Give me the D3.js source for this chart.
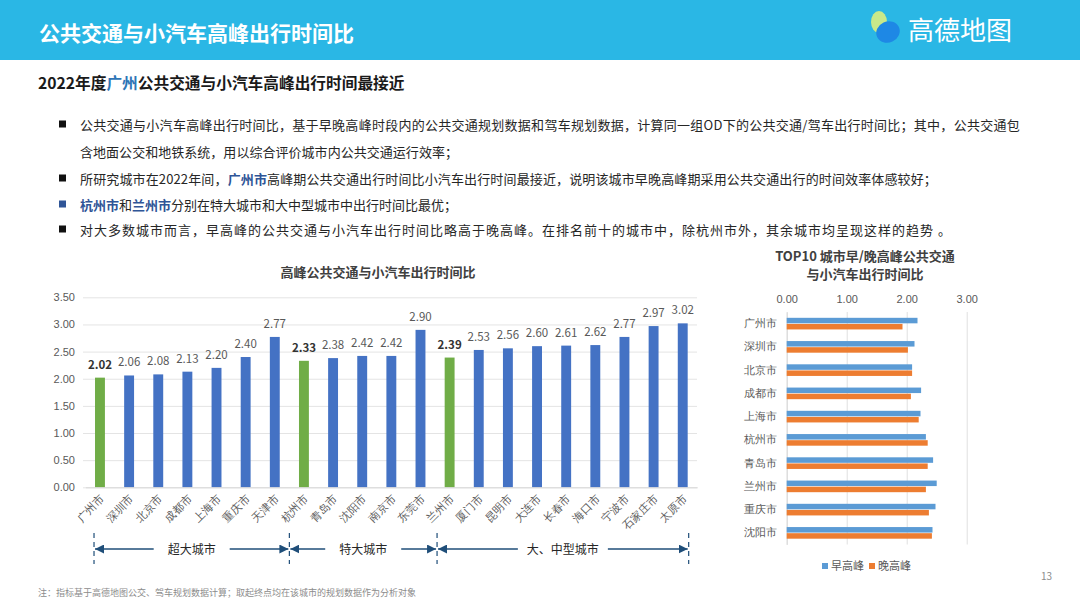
<!DOCTYPE html>
<html><head><meta charset="utf-8">
<script src="https://cdn.jsdelivr.net/npm/d3@7"></script>
<style>
html,body{margin:0;padding:0;background:#fff;}
svg{display:block;font-family:"Noto Sans CJK SC","Noto Sans",sans-serif;}
</style></head>
<body><svg id="c" width="1080" height="608"></svg>
<script>
// ---------- data ----------
const cities = ["广州市","深圳市","北京市","成都市","上海市","重庆市","天津市","杭州市","青岛市","沈阳市","南京市","东莞市","兰州市","厦门市","昆明市","大连市","长春市","海口市","宁波市","石家庄市","太原市"];
const ratios = [2.02,2.06,2.08,2.13,2.20,2.40,2.77,2.33,2.38,2.42,2.42,2.90,2.39,2.53,2.56,2.60,2.61,2.62,2.77,2.97,3.02];
const highlighted = ["广州市","杭州市","兰州市"];
const yTicks = [0,0.5,1,1.5,2,2.5,3,3.5];
const groups = [
  {name:"超大城市", from:"广州市", to:"天津市"},
  {name:"特大城市", from:"杭州市", to:"东莞市"},
  {name:"大、中型城市", from:"兰州市", to:"太原市"}
];
const topCities = ["广州市","深圳市","北京市","成都市","上海市","杭州市","青岛市","兰州市","重庆市","沈阳市"];
const morning = [2.18,2.13,2.09,2.24,2.23,2.32,2.44,2.50,2.48,2.43];
const evening = [1.93,2.02,2.09,2.07,2.20,2.35,2.35,2.32,2.37,2.42];
const seriesNames = ["早高峰","晚高峰"];
const xTicksTop = [0,1,2,3];

const svg = d3.select("#c");
const grey = "#595959";

// ---------- header ----------
svg.append("rect").attr("x",0).attr("y",0).attr("width",1080).attr("height",60).attr("fill","#2AB7E5");
svg.append("text").attr("x",39).attr("y",41).attr("fill","#fff").attr("font-size",21).attr("font-weight","bold")
  .text("公共交通与小汽车高峰出行时间比");
// logo
const logo = svg.append("g");
logo.append("ellipse").attr("cx",879).attr("cy",22).attr("rx",8).attr("ry",11).attr("fill","#C8E98A");
logo.append("ellipse").attr("cx",888).attr("cy",32).attr("rx",12).attr("ry",10.5).attr("fill","#1E88E5").attr("transform","rotate(-25,888,32)");
logo.append("text").attr("x",908).attr("y",40).attr("fill","#fff").attr("font-size",26).text("高德地图");

// ---------- title and bullets ----------
const title = svg.append("text").attr("x",38).attr("y",89).attr("font-size",15.7).attr("font-weight","bold").attr("fill","#1a1a1a");
title.append("tspan").text("2022年度");
title.append("tspan").attr("fill","#2E75B6").text("广州");
title.append("tspan").text("公共交通与小汽车高峰出行时间最接近");

const bulletLines = [
  {y:125, end:1020, bullet:"#111", parts:[["公共交通与小汽车高峰出行时间比，基于早晚高峰时段内的公共交通规划数据和驾车规划数据，计算同一组OD下的公共交通/驾车出行时间比；其中，公共交通包",false]]},
  {y:152, end:458, bullet:null, parts:[["含地面公交和地铁系统，用以综合评价城市内公共交通运行效率；",false]]},
  {y:179, end:937, bullet:"#111", parts:[["所研究城市在2022年间，",false],["广州市",true],["高峰期公共交通出行时间比小汽车出行时间最接近，说明该城市早晚高峰期采用公共交通出行的时间效率体感较好；",false]]},
  {y:205, end:457, bullet:"#2F5597", parts:[["杭州市",true],["和",false],["兰州市",true],["分别在特大城市和大中型城市中出行时间比最优；",false]]},
  {y:230, end:952, bullet:"#111", parts:[["对大多数城市而言，早高峰的公共交通与小汽车出行时间比略高于晚高峰。在排名前十的城市中，除杭州市外，其余城市均呈现这样的趋势 。",false]]}
];
bulletLines.forEach(l=>{
  if(l.bullet) svg.append("rect").attr("x",59).attr("y",l.y-4.5).attr("width",7).attr("height",7).attr("fill",l.bullet);
  const t = svg.append("text").attr("x",80).attr("y",l.y+4.5).attr("font-size",13).attr("fill","#262626");
  l.parts.forEach(p=>{
    const s = t.append("tspan").text(p[0]);
    if(p[1]) s.attr("fill","#2F5597").attr("font-weight","bold");
  });
  const n = l.parts.map(p=>p[0]).join("").length;
  const w = t.node().getComputedTextLength();
  const ls = (l.end - 80 - w)/n;
  t.attr("letter-spacing", ls.toFixed(3));
});

// ---------- left bar chart ----------
const x = d3.scaleBand().domain(cities).range([85.4,697.3]).paddingInner(0.66).paddingOuter(0.33);
const y = d3.scaleLinear().domain([0,3.5]).range([487.3,297.3]);

svg.append("text").attr("x",378).attr("y",277).attr("text-anchor","middle").attr("font-size",13)
  .attr("font-weight","bold").attr("fill","#404040").text("高峰公共交通与小汽车出行时间比");

const yAxis = svg.append("g").attr("transform","translate(83,0)")
  .call(d3.axisLeft(y).tickValues(yTicks).tickFormat(d3.format(".2f")).tickSize(-614).tickPadding(8));
yAxis.select(".domain").remove();
yAxis.selectAll(".tick line").attr("stroke","#E4E4E4");
yAxis.selectAll(".tick text").attr("fill",grey).attr("font-size",11);

svg.append("g").selectAll("rect").data(cities).join("rect")
  .attr("x",d=>x(d)).attr("width",x.bandwidth())
  .attr("y",(d,i)=>y(ratios[i])).attr("height",(d,i)=>y(0)-y(ratios[i]))
  .attr("fill",d=>highlighted.includes(d)?"#70AD47":"#4472C4");

svg.append("g").selectAll("text").data(cities).join("text")
  .attr("x",d=>x(d)+x.bandwidth()/2).attr("y",(d,i)=>y(ratios[i])-9)
  .attr("text-anchor","middle").attr("font-size",11.5)
  .attr("fill",d=>highlighted.includes(d)?"#333":grey)
  .attr("font-weight",d=>highlighted.includes(d)?"bold":"normal")
  .text((d,i)=>ratios[i].toFixed(2));

const xAxis = svg.append("g").attr("transform",`translate(0,${y(0)})`)
  .call(d3.axisBottom(x).tickSize(0).tickPadding(0));
xAxis.select(".domain").attr("stroke","#D9D9D9");
xAxis.selectAll(".tick text").attr("fill",grey).attr("font-size",11)
  .attr("text-anchor","end").attr("dy",0)
  .attr("transform","translate(5,12) rotate(-45)");

// group brackets
const half = x.step()/2;
const bounds = [x(cities[0])-1, x("杭州市")+x.bandwidth()/2-half, x("兰州市")+x.bandwidth()/2-half+2, x(cities[cities.length-1])+x.bandwidth()+1];
const defs = svg.append("defs");
defs.append("marker").attr("id","ah").attr("viewBox","0 0 10 10").attr("refX",10).attr("refY",5)
  .attr("markerWidth",6).attr("markerHeight",6).attr("orient","auto-start-reverse")
  .append("path").attr("d","M0,0 L10,5 L0,10 z").attr("fill","#1F4E79");
const by = 549;
bounds.forEach(b=>{
  svg.append("line").attr("x1",b).attr("x2",b).attr("y1",533).attr("y2",564)
    .attr("stroke","#1F4E79").attr("stroke-width",1.2).attr("stroke-dasharray","5,4");
});
const textHalf = [38,38,45];
groups.forEach((g,i)=>{
  const l = bounds[i], r = bounds[i+1], c = (l+r)/2;
  svg.append("text").attr("x",c).attr("y",by+4.5).attr("text-anchor","middle").attr("font-size",12).attr("fill","#262626").text(g.name);
  svg.append("line").attr("x1",c-textHalf[i]).attr("x2",l+1).attr("y1",by).attr("y2",by)
    .attr("stroke","#1F4E79").attr("stroke-width",1.5).attr("marker-end","url(#ah)");
  svg.append("line").attr("x1",c+textHalf[i]).attr("x2",r-1).attr("y1",by).attr("y2",by)
    .attr("stroke","#1F4E79").attr("stroke-width",1.5).attr("marker-end","url(#ah)");
});

// ---------- right horizontal bar chart ----------
const hx = d3.scaleLinear().domain([0,3]).range([786.7,966.7]);
const hy = d3.scaleBand().domain(topCities).range([312,544.5]).padding(0);
const hsub = d3.scaleBand().domain(seriesNames).range([0,hy.bandwidth()]).paddingInner(0.1).paddingOuter(0.95);
const colors = {"早高峰":"#5B9BD5","晚高峰":"#ED7D31"};

const rt = svg.append("text").attr("text-anchor","middle").attr("font-size",13).attr("font-weight","bold").attr("fill","#404040");
rt.append("tspan").attr("x",865).attr("y",261).text("TOP10 城市早/晚高峰公共交通");
rt.append("tspan").attr("x",865).attr("y",279).text("与小汽车出行时间比");

const topAxis = svg.append("g").attr("transform","translate(0,312)")
  .call(d3.axisTop(hx).tickValues(xTicksTop).tickFormat(d3.format(".2f")).tickSize(-232.5).tickPadding(9));
topAxis.select(".domain").remove();
topAxis.selectAll(".tick line").attr("stroke","#E0E0E0");
topAxis.selectAll(".tick text").attr("fill",grey).attr("font-size",11);

const leftAxis = svg.append("g").attr("transform",`translate(${hx(0)},0)`)
  .call(d3.axisLeft(hy).tickSize(0).tickPadding(10));
leftAxis.select(".domain").attr("stroke","#D9D9D9");
leftAxis.selectAll(".tick text").attr("fill",grey).attr("font-size",11);

const rows = topCities.map((c,i)=>({city:c, vals:[morning[i],evening[i]]}));
const rg = svg.append("g").selectAll("g").data(rows).join("g").attr("transform",d=>`translate(0,${hy(d.city)})`);
rg.selectAll("rect").data(d=>d.vals.map((v,j)=>({s:seriesNames[j],v}))).join("rect")
  .attr("x",hx(0)).attr("y",d=>hsub(d.s)).attr("height",hsub.bandwidth())
  .attr("width",d=>hx(d.v)-hx(0)).attr("fill",d=>colors[d.s]);

// legend
const lg = svg.append("g");
seriesNames.forEach((s,i)=>{
  const lx = 822 + i*47;
  lg.append("rect").attr("x",lx).attr("y",563).attr("width",6).attr("height",6).attr("fill",colors[s]);
  lg.append("text").attr("x",lx+9).attr("y",570).attr("font-size",11).attr("fill",grey).text(s);
});

// ---------- footer ----------
svg.append("text").attr("x",38).attr("y",596).attr("font-size",9).attr("fill","#8c8c8c")
  .text("注：指标基于高德地图公交、驾车规划数据计算；取起终点均在该城市的规划数据作为分析对象");
svg.append("text").attr("x",1052).attr("y",580).attr("text-anchor","end").attr("font-size",10).attr("fill","#8c8c8c").text("13");
</script></body></html>
